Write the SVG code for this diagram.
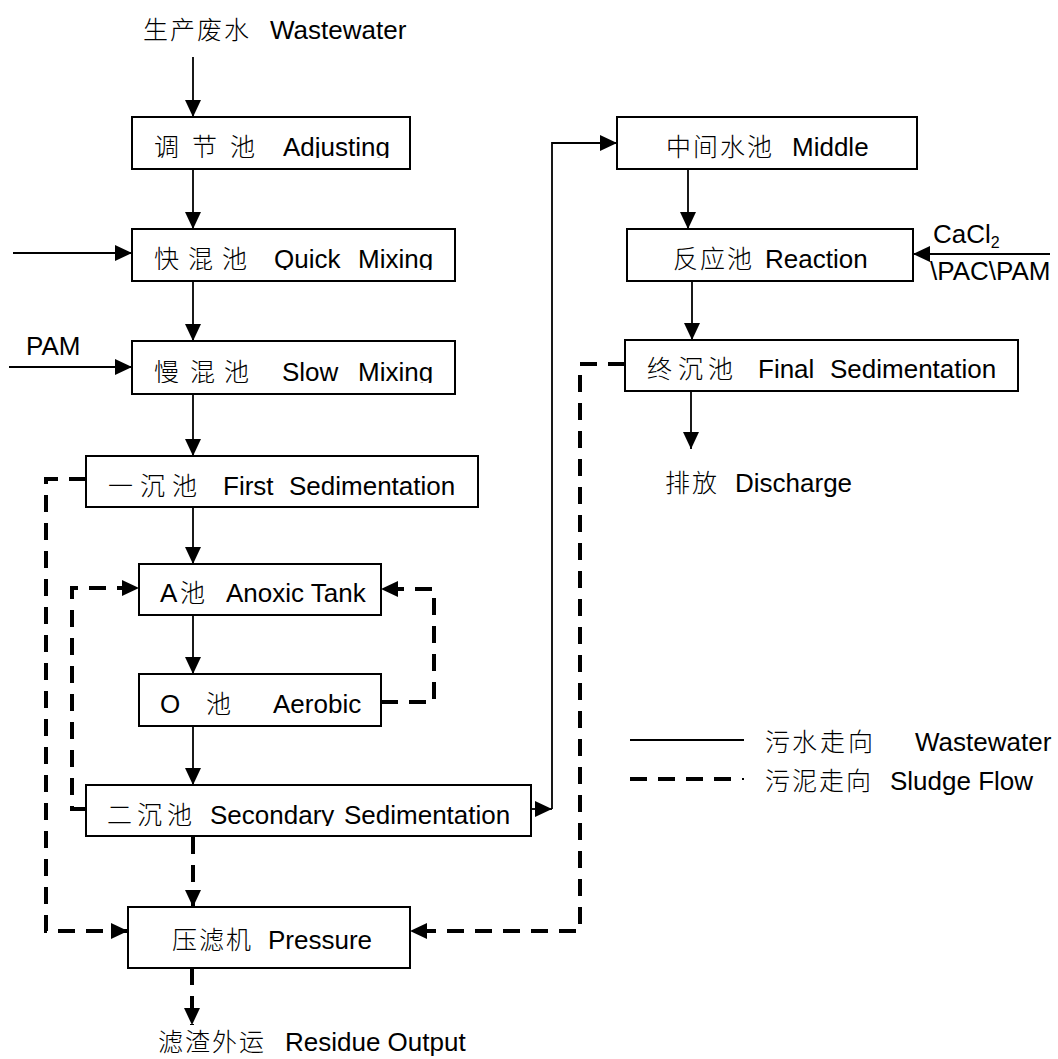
<svg xmlns="http://www.w3.org/2000/svg" width="1058" height="1059" viewBox="0 0 1058 1059">
  <style>
    .box { fill: #fff; stroke: #000; stroke-width: 2; }
    .t { font-family: "Liberation Sans", "Noto Sans CJK SC", sans-serif; font-size: 26px; fill: #000; }
    .cn { font-family: "Noto Sans CJK SC", sans-serif; font-size: 25px; font-weight: 300; fill: #000; }
    .flow { fill: none; stroke: #000; stroke-width: 1.8; }
    .sludge { fill: none; stroke: #000; stroke-width: 4; stroke-dasharray: 17 11; }
  </style>
  <defs>
    <marker id="arrow" markerUnits="userSpaceOnUse" markerWidth="18" markerHeight="16" refX="17" refY="8" orient="auto">
      <path d="M0,0 L17,8 L0,16 Z" fill="#000"/>
    </marker>
    <!-- descender cut-offs on some box labels -->
    <clipPath id="cutAdj"><rect x="130" y="110" width="300" height="48"/></clipPath>
    <clipPath id="cutQuick"><rect x="130" y="225" width="330" height="45"/></clipPath>
    <clipPath id="cutSlow"><rect x="130" y="338" width="330" height="45"/></clipPath>
    <clipPath id="cutSec"><rect x="84" y="782" width="450" height="44"/></clipPath>
  </defs>

  <!-- connectors -->
  <g id="connectors">
    <!-- wastewater (solid) -->
    <path class="flow" d="M193,57 V117" marker-end="url(#arrow)"/>
    <path class="flow" d="M193,169 V229" marker-end="url(#arrow)"/>
    <path class="flow" d="M13,253 H132" marker-end="url(#arrow)"/>
    <path class="flow" d="M193,281 V341" marker-end="url(#arrow)"/>
    <path class="flow" d="M9,367 H132" marker-end="url(#arrow)"/>
    <path class="flow" d="M193,394 V456" marker-end="url(#arrow)"/>
    <path class="flow" d="M193,507 V564" marker-end="url(#arrow)"/>
    <path class="flow" d="M193,615 V674" marker-end="url(#arrow)"/>
    <path class="flow" d="M193,726 V785" marker-end="url(#arrow)"/>
    <path class="flow" d="M531,809 H552" marker-end="url(#arrow)"/>
    <path class="flow" d="M552,809 V143 H617" marker-end="url(#arrow)"/>
    <path class="flow" d="M688,169 V229" marker-end="url(#arrow)"/>
    <path class="flow" d="M1050,254 H913" marker-end="url(#arrow)"/>
    <path class="flow" d="M692,281 V340" marker-end="url(#arrow)"/>
    <path class="flow" d="M691,391 V449" marker-end="url(#arrow)"/>
    <!-- sludge (dashed) -->
    <path class="sludge" d="M86,479 H46 V931 H128" marker-end="url(#arrow)"/>
    <path class="sludge" d="M86,809 H72 V588 H139" marker-end="url(#arrow)"/>
    <path class="sludge" d="M381,702 H434 V589 H381" marker-end="url(#arrow)"/>
    <path class="sludge" d="M193,837 V907" marker-end="url(#arrow)"/>
    <path class="sludge" d="M625,364 H580 V931 H410" marker-end="url(#arrow)"/>
    <path class="sludge" d="M192,968 V1025" marker-end="url(#arrow)"/>
  </g>

  <!-- sources, dosing and outlets -->
  <g id="source">
    <text class="cn" x="143 170 197 224" y="39">生产废水</text>
    <text class="t" x="270" y="39">Wastewater</text>
  </g>
  <g id="dose-pam">
    <text class="t" x="26" y="355">PAM</text>
  </g>
  <g id="dose-ca">
    <text class="t" x="933" y="243" font-size="24">CaCl<tspan font-size="16" dy="5">2</tspan></text>
    <text class="t" x="930" y="280" font-size="24">\PAC\PAM</text>
  </g>

  <!-- process units -->
  <g id="adjusting">
    <rect class="box" x="132" y="117" width="278" height="52"/>
    <g clip-path="url(#cutAdj)">
      <text class="cn" x="154 192 230" y="156">调节池</text>
      <text class="t" x="283" y="156">Adjusting</text>
    </g>
  </g>
  <g id="quick-mixing">
    <rect class="box" x="132" y="229" width="323" height="52"/>
    <g clip-path="url(#cutQuick)">
      <text class="cn" x="154 188 222" y="268">快混池</text>
      <text class="t" x="274" y="268">Quick</text>
      <text class="t" x="358" y="268">Mixing</text>
    </g>
  </g>
  <g id="slow-mixing">
    <rect class="box" x="132" y="341" width="323" height="53"/>
    <g clip-path="url(#cutSlow)">
      <text class="cn" x="154 190 224" y="381">慢混池</text>
      <text class="t" x="282" y="381">Slow</text>
      <text class="t" x="358" y="381">Mixing</text>
    </g>
  </g>
  <g id="first-sedimentation">
    <rect class="box" x="86" y="456" width="392" height="51"/>
    <text class="cn" x="108 140 172" y="495">一沉池</text>
    <text class="t" x="223" y="495">First</text>
    <text class="t" x="289" y="495">Sedimentation</text>
  </g>
  <g id="anoxic">
    <rect class="box" x="139" y="564" width="242" height="51"/>
    <text class="t" x="160" y="602">A</text>
    <text class="cn" x="180" y="602">池</text>
    <text class="t" x="226" y="602">Anoxic Tank</text>
  </g>
  <g id="aerobic">
    <rect class="box" x="139" y="674" width="242" height="52"/>
    <text class="t" x="160" y="713">O</text>
    <text class="cn" x="206" y="713">池</text>
    <text class="t" x="273" y="713">Aerobic</text>
  </g>
  <g id="secondary-sedimentation">
    <rect class="box" x="86" y="785" width="445" height="51"/>
    <g clip-path="url(#cutSec)">
      <text class="cn" x="107 137 167" y="824">二沉池</text>
      <text class="t" x="210" y="824">Secondary</text>
      <text class="t" x="344" y="824">Sedimentation</text>
    </g>
  </g>
  <g id="filter-press">
    <rect class="box" x="128" y="907" width="282" height="61"/>
    <text class="cn" x="172 199 226" y="949">压滤机</text>
    <text class="t" x="268" y="949">Pressure</text>
  </g>
  <g id="residue">
    <text class="cn" x="158 185 212 239" y="1051">滤渣外运</text>
    <text class="t" x="285" y="1051">Residue Output</text>
  </g>
  <g id="middle">
    <rect class="box" x="617" y="117" width="300" height="52"/>
    <text class="cn" x="666 693 720 747" y="156">中间水池</text>
    <text class="t" x="792" y="156">Middle</text>
  </g>
  <g id="reaction">
    <rect class="box" x="627" y="229" width="286" height="52"/>
    <text class="cn" x="673 700 727" y="268">反应池</text>
    <text class="t" x="765" y="268">Reaction</text>
  </g>
  <g id="final-sedimentation">
    <rect class="box" x="625" y="340" width="393" height="51"/>
    <text class="cn" x="647 678 708" y="378">终沉池</text>
    <text class="t" x="758" y="378">Final</text>
    <text class="t" x="830" y="378">Sedimentation</text>
  </g>
  <g id="discharge">
    <text class="cn" x="665 692" y="492">排放</text>
    <text class="t" x="735" y="492">Discharge</text>
  </g>

  <!-- legend -->
  <g id="legend">
    <line x1="630" y1="740" x2="744" y2="740" stroke="#000" stroke-width="2"/>
    <text class="cn" x="765 792 820 848" y="751">污水走向</text>
    <text class="t" x="915" y="751">Wastewater</text>
    <line x1="630" y1="779" x2="735" y2="779" stroke="#000" stroke-width="4" stroke-dasharray="17 11"/>
    <rect x="742" y="778" width="2" height="2" fill="#000"/>
    <text class="cn" x="765 792 819 846" y="790">污泥走向</text>
    <text class="t" x="890" y="790">Sludge Flow</text>
  </g>
</svg>
